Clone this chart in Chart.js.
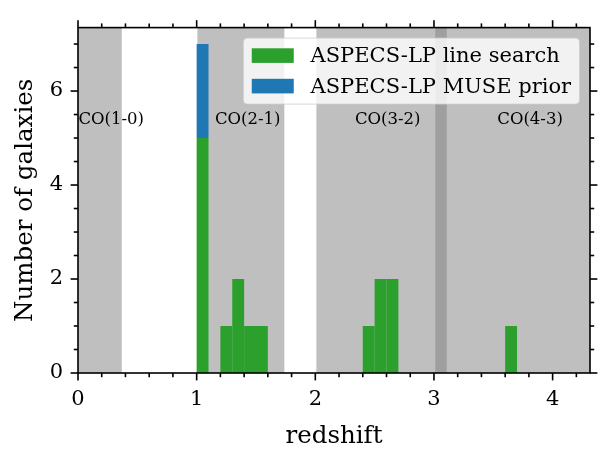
<!DOCTYPE html>
<html><head><meta charset="utf-8">
<script src="https://cdn.jsdelivr.net/npm/chart.js@4/dist/chart.umd.min.js"></script>
<style>html,body{margin:0;padding:0;background:#fff;overflow:hidden}</style>
</head><body>
<canvas id="c" width="613" height="460" style="display:block;width:613px;height:460px"></canvas>
<script>
// ---- data ----
const binLeft = [1.0, 1.2, 1.3, 1.4, 1.5, 2.4, 2.5, 2.6, 3.6];
const binWidth = 0.1;
const lineSearchCounts = [5, 1, 2, 1, 1, 1, 2, 2, 1];
const musePriorCounts  = [2, 0, 0, 0, 0, 0, 0, 0, 0];
const seriesLabels = ['ASPECS-LP line search', 'ASPECS-LP MUSE prior'];
const bandNames  = ['CO(1-0)', 'CO(2-1)', 'CO(3-2)', 'CO(4-3)'];
const bandStart  = [0.0, 1.006, 2.009, 3.011];
const bandEnd    = [0.369, 1.739, 3.108, 4.477];
const bandLabelX = [0.28, 1.43, 2.61, 3.81];
const bandLabelY = [5.38, 5.38, 5.38, 5.38];
const xTickValues = [0, 1, 2, 3, 4];
const yTickValues = [0, 2, 4, 6];
const xMinorStep = 0.2, yMinorStep = 0.5;
const xRange = [0, 4.315], yRange = [0, 7.35];

const FONT = '"DejaVu Serif", serif';
const GREEN = '#2ca02c', BLUE = '#1f77b4';

const bandsPlugin = {
  id: 'bands',
  beforeDatasetsDraw(chart) {
    const {ctx, chartArea: a, scales: {x}} = chart;
    ctx.save();
    ctx.beginPath(); ctx.rect(a.left, a.top, a.right - a.left, a.bottom - a.top); ctx.clip();
    ctx.fillStyle = 'rgba(128,128,128,0.5)';
    for (let i = 0; i < bandStart.length; i++) {
      const p0 = x.getPixelForValue(bandStart[i]), p1 = x.getPixelForValue(bandEnd[i]);
      ctx.fillRect(p0, a.top, p1 - p0, a.bottom - a.top);
    }
    ctx.restore();
  },
  afterDatasetsDraw(chart) {
    const {ctx, scales: {x, y}} = chart;
    ctx.save();
    ctx.fillStyle = '#000';
    ctx.font = '16.5px ' + FONT;
    ctx.textAlign = 'center'; ctx.textBaseline = 'middle';
    for (let i = 0; i < bandNames.length; i++) {
      ctx.fillText(bandNames[i], x.getPixelForValue(bandLabelX[i]), y.getPixelForValue(bandLabelY[i]));
    }
    ctx.restore();
  }
};

const framePlugin = {
  id: 'frame',
  afterDraw(chart) {
    const {ctx, chartArea: a, scales: {x, y}} = chart;
    ctx.save();
    ctx.strokeStyle = '#000'; ctx.lineWidth = 1.6; ctx.lineCap = 'butt';
    const MAJ = 7.4, MIN = 4.2;
    const line = (x0, y0, x1, y1) => { ctx.beginPath(); ctx.moveTo(x0, y0); ctx.lineTo(x1, y1); ctx.stroke(); };
    const xs = [];
    for (let v = xRange[0]; v <= xRange[1] + 1e-9; v += xMinorStep) xs.push(Math.round(v * 10) / 10);
    xs.forEach(v => {
      const major = xTickValues.some(t => Math.abs(t - v) < 1e-6);
      const L = major ? MAJ : MIN, px = x.getPixelForValue(v);
      line(px, a.bottom, px, a.bottom + L);
      line(px, a.top, px, a.top - L);
    });
    const ys = [];
    for (let v = yRange[0]; v <= yRange[1] + 1e-9; v += yMinorStep) ys.push(Math.round(v * 10) / 10);
    ys.forEach(v => {
      const major = yTickValues.some(t => Math.abs(t - v) < 1e-6);
      const L = major ? MAJ : MIN, py = y.getPixelForValue(v);
      line(a.left, py, a.left - L, py);
      line(a.right, py, a.right + L, py);
    });
    ctx.strokeRect(a.left, a.top, a.right - a.left, a.bottom - a.top);
    ctx.restore();

    // legend
    const fs = 21;
    ctx.save();
    ctx.font = fs + 'px ' + FONT;
    const ds = chart.data.datasets;
    let tw = 0; ds.forEach(d => { tw = Math.max(tw, ctx.measureText(d.label).width); });
    const w = 0.4 * fs + 2 * fs + 0.8 * fs + tw + 0.4 * fs;
    const h = 66;
    const right = a.right - 0.5 * fs, top = a.top + 0.5 * fs;
    const left = right - w;
    ctx.beginPath();
    ctx.roundRect(left, top, w, h, 4);
    ctx.fillStyle = 'rgba(255,255,255,0.8)'; ctx.fill();
    ctx.strokeStyle = 'rgba(204,204,204,0.8)'; ctx.lineWidth = 1; ctx.stroke();
    const rowC = [top + 17.5, top + 48];
    ds.forEach((d, i) => {
      ctx.fillStyle = d.backgroundColor;
      ctx.fillRect(left + 0.4 * fs, rowC[i] - 7.3, 2 * fs, 14.6);
      ctx.fillStyle = '#000';
      ctx.textAlign = 'left'; ctx.textBaseline = 'middle';
      ctx.fillText(d.label, left + 0.4 * fs + 2 * fs + 0.8 * fs, rowC[i] + 1);
    });
    ctx.restore();
  }
};

const mk = (counts) => binLeft.map((l, i) => ({x: l + binWidth / 2, y: counts[i]}));

new Chart(document.getElementById('c'), {
  type: 'bar',
  data: {
    datasets: [
      {label: seriesLabels[0], data: mk(lineSearchCounts), backgroundColor: GREEN,
       borderWidth: 0, inflateAmount: 0, barPercentage: 1, categoryPercentage: 1},
      {label: seriesLabels[1], data: mk(musePriorCounts), backgroundColor: BLUE,
       borderWidth: 0, inflateAmount: 0, barPercentage: 1, categoryPercentage: 1}
    ]
  },
  options: {
    responsive: false, animation: false, devicePixelRatio: 1,
    layout: {padding: {top: 22, right: 23, left: 0, bottom: 0}},
    plugins: {legend: {display: false}, tooltip: {enabled: false}},
    scales: {
      x: {
        type: 'linear', min: xRange[0], max: xRange[1], stacked: true, offset: false,
        afterBuildTicks: s => { s.ticks = xTickValues.map(v => ({value: v})); },
        afterFit: s => { s.height = 87; },
        grid: {display: false, drawTicks: false}, border: {display: false},
        ticks: {font: {family: FONT, size: 21}, color: '#000', padding: 14, maxRotation: 0, autoSkip: false,
                callback: v => String(v)},
        title: {display: true, text: 'redshift', color: '#000', font: {family: FONT, size: 24.5},
                padding: {top: 0, bottom: 9}}
      },
      y: {
        type: 'linear', min: yRange[0], max: yRange[1], stacked: true,
        afterBuildTicks: s => { s.ticks = yTickValues.map(v => ({value: v})); },
        afterFit: s => { s.width = 78; },
        grid: {display: false, drawTicks: false}, border: {display: false},
        ticks: {font: {family: FONT, size: 21}, color: '#000', padding: 15, autoSkip: false,
                callback: v => String(v)},
        title: {display: true, text: 'Number of galaxies', color: '#000', font: {family: FONT, size: 24.5},
                padding: {top: 11, bottom: 0}}
      }
    }
  },
  plugins: [bandsPlugin, framePlugin]
});
</script>
</body></html>
